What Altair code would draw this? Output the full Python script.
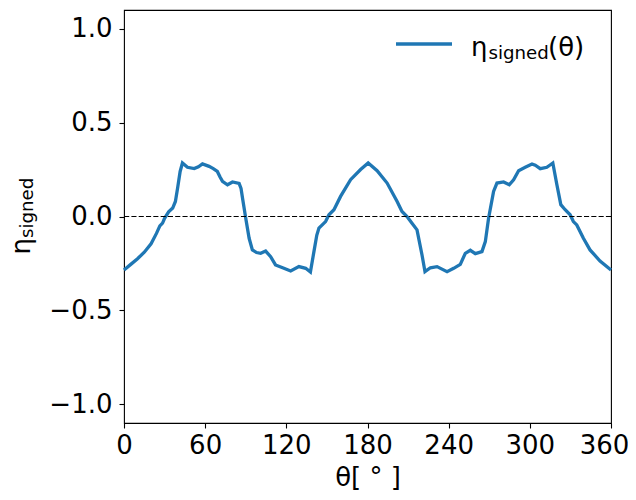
import altair as alt
import pandas as pd

theta = [0, 5, 10, 15, 20, 24, 26.5, 28.5, 30, 33, 36, 38, 39.6, 41.5, 43.2, 46.9, 51.9, 55, 58,
         62.9, 66, 69, 71, 72.8, 76.5, 80.2, 85.1, 86.5, 87.6, 90, 92.5, 94.9, 98, 101, 104.7,
         108.4, 112, 118.2, 123.2, 129.3, 134.3, 137.8, 140.4, 142.5, 144.1, 149, 151.5, 155.2,
         160.1, 167.5, 174.9, 180.5, 187.1, 194.5, 201.9, 205.5, 209.2, 212.9, 216.6, 220.3,
         222.5, 226.5, 231.4, 238.8, 243.7, 248.6, 252.3, 256, 259.7, 264.6, 267.1, 269.5,
         273.2, 275.7, 280.6, 284.8, 288, 291.7, 296.6, 301.6, 304, 307.7, 312.6, 317, 320,
         322.9, 326.1, 329.8, 332.2, 334.7, 339.6, 344.5, 351.9, 360]
eta = [-0.285, -0.255, -0.225, -0.19, -0.145, -0.09, -0.05, -0.035, -0.01, 0.025, 0.045, 0.08,
       0.15, 0.24, 0.285, 0.262, 0.255, 0.265, 0.28, 0.267, 0.255, 0.24, 0.21, 0.187, 0.169,
       0.184, 0.176, 0.15, 0.098, -0.009, -0.116, -0.178, -0.192, -0.196, -0.184, -0.214,
       -0.258, -0.276, -0.29, -0.267, -0.276, -0.296, -0.187, -0.1, -0.062, -0.027, 0.009,
       0.036, 0.107, 0.196, 0.25, 0.285, 0.244, 0.178, 0.08, 0.027, 0.0, -0.036, -0.071,
       -0.205, -0.294, -0.273, -0.267, -0.294, -0.276, -0.255, -0.196, -0.18, -0.198, -0.187,
       -0.134, -0.009, 0.134, 0.178, 0.184, 0.169, 0.196, 0.244, 0.262, 0.28, 0.273, 0.255,
       0.262, 0.285, 0.169, 0.063, 0.036, 0.009, -0.027, -0.045, -0.116, -0.178, -0.237, -0.285]

x_ticks = [0, 60, 120, 180, 240, 300, 360]
y_ticks = [-1.0, -0.5, 0.0, 0.5, 1.0]

FONT = "DejaVu Sans"
BLUE = "#1f77b4"
FS = 26
SUB = 18.2

df = pd.DataFrame({"theta": theta, "eta": eta})
one = pd.DataFrame({"a": [0]})

x_enc = alt.X("theta:Q", scale=alt.Scale(domain=[0, 360], nice=False, zero=False),
              axis=alt.Axis(values=x_ticks, title="θ[ ° ]", format="d", labelFlush=False,
                            labelOffset={"condition": {"test": "datum.value == 360", "value": -7},
                                         "value": 0}))
y_enc = alt.Y("eta:Q", scale=alt.Scale(domain=[-1.1, 1.1], nice=False),
              axis=alt.Axis(values=y_ticks, title=None, format=".1f", labelFlush=False))

line = alt.Chart(df).mark_line(color=BLUE, strokeWidth=3.3).encode(x=x_enc, y=y_enc)

zero = alt.Chart(pd.DataFrame({"y": [0.0]})).mark_rule(
    color="black", strokeWidth=1.1, strokeDash=[5.1, 2.2]
).encode(y="y:Q")

leg_line = alt.Chart(one).mark_rule(color=BLUE, strokeWidth=3.3).encode(
    x=alt.value(272), x2=alt.value(328), y=alt.value(34))


def txt(s, x, y, size, angle=0):
    return alt.Chart(one).mark_text(
        text=s, font=FONT, fontSize=size, align="left", baseline="alphabetic",
        color="black", angle=angle
    ).encode(x=alt.value(x), y=alt.value(y))


leg_eta = txt("η", 347, 46, FS)
leg_sub = txt("signed", 364.5, 49, SUB)
leg_par = txt("(θ)", 424, 46, FS)

ylab_eta = txt("η", -94, 244.5, FS, 270)
ylab_sub = txt("signed", -91.5, 228, SUB, 270)

chart = alt.layer(line, zero, leg_line, leg_eta, leg_sub, leg_par, ylab_eta, ylab_sub).properties(
    width=487, height=413,
    autosize=alt.AutoSizeParams(type="none"),
    padding={"left": 116, "top": 2, "right": 17, "bottom": 69},
).configure_view(
    stroke="black", strokeWidth=1.1
).configure_axis(
    domain=False, grid=False, ticks=True, tickColor="black", tickSize=5, tickWidth=1.1,
    labelFont=FONT, labelFontSize=FS, labelColor="black",
    titleFont=FONT, titleFontSize=FS, titleColor="black", titleFontWeight="normal",
).configure_axisX(titlePadding=6, labelPadding=4).configure_axisY(labelPadding=7)

chart.save("out.html", embed_options={"renderer": "svg", "actions": False})
